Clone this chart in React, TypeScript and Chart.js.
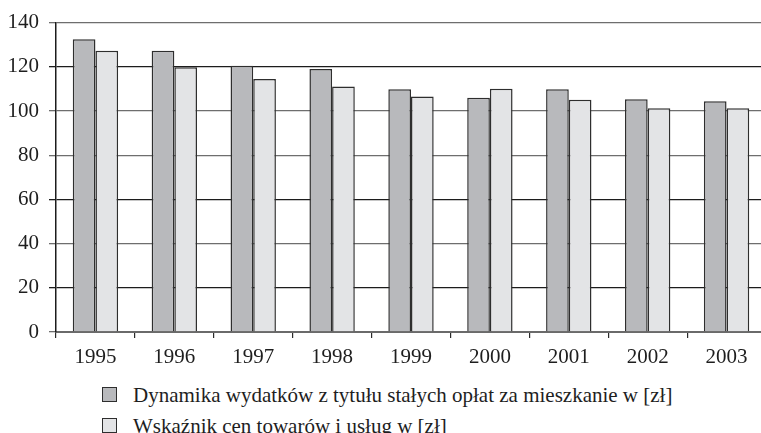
import React, { useEffect, useRef } from "react";
import { Chart, registerables } from "chart.js";

Chart.register(...registerables);

const categories = ["1995", "1996", "1997", "1998", "1999", "2000", "2001", "2002", "2003"];
const seriesExpenses = [132.5, 127.3, 120.5, 119.0, 109.8, 106.0, 109.8, 105.3, 104.4];
const seriesPrices = [127.3, 119.8, 114.5, 111.1, 106.6, 110.1, 105.1, 101.3, 101.3];
const seriesLabels = [
  "Dynamika wydatków z tytułu stałych opłat za mieszkanie w [zł]",
  "Wskaźnik cen towarów i usług w [zł]",
];
const seriesColors = ["#b8b9bc", "#e3e4e6"];
const yMin = 0;
const yMax = 140;
const yStep = 20;

const FONT = "'Liberation Serif', 'Times New Roman', serif";
const FS = 21;

export default function App() {
  const canvasRef = useRef<HTMLCanvasElement | null>(null);

  useEffect(() => {
    const canvas = canvasRef.current;
    if (!canvas) return;
    const chart = new Chart(canvas, {
      type: "bar",
      data: {
        labels: categories,
        datasets: [
          {
            label: seriesLabels[0],
            data: seriesExpenses,
            backgroundColor: seriesColors[0],
            borderColor: "#2e2e2e",
            borderWidth: 1.5,
            categoryPercentage: 0.575,
            barPercentage: 1,
          },
          {
            label: seriesLabels[1],
            data: seriesPrices,
            backgroundColor: seriesColors[1],
            borderColor: "#2e2e2e",
            borderWidth: 1.5,
            categoryPercentage: 0.575,
            barPercentage: 1,
          },
        ],
      },
      options: {
        responsive: false,
        animation: false,
        devicePixelRatio: 1,
        layout: { padding: { top: 11, right: 14, left: 0, bottom: 0 } },
        plugins: {
          legend: { display: false },
          tooltip: { enabled: false },
        },
        scales: {
          x: {
            offset: true,
            grid: {
              display: true,
              drawOnChartArea: false,
              drawTicks: true,
              tickLength: 6,
              color: "#2a2a2a",
              lineWidth: 1.2,
              offset: true,
            },
            border: { display: true, color: "#6a6a6a", width: 2 },
            ticks: {
              font: { family: FONT, size: FS },
              color: "#1e1e1e",
              padding: 7,
            },
            afterFit: (s: any) => {
              s.height = 43;
            },
          },
          y: {
            min: yMin,
            max: yMax,
            ticks: {
              stepSize: yStep,
              font: { family: FONT, size: FS },
              color: "#1e1e1e",
              padding: 10,
            },
            grid: {
              tickLength: 7,
              lineWidth: 1.3,
              color: (ctx: any) => {
                const v = ctx.tick ? ctx.tick.value : 0;
                return [120, 60, 20].includes(v) ? "#1c1c1c" : "#6e6e6e";
              },
            },
            border: { display: true, color: "#1c1c1c", width: 1.5 },
            afterFit: (s: any) => {
              s.width = 56;
            },
          },
        },
      },
    });
    return () => chart.destroy();
  }, []);

  return (
    <div
      style={{
        position: "fixed",
        left: 0,
        top: 0,
        width: 761,
        height: 433,
        overflow: "hidden",
        background: "#fff",
      }}
    >
      <canvas
        ref={canvasRef}
        width={780}
        height={375}
        style={{ position: "absolute", left: 0, top: 0, width: 780, height: 375 }}
      />
      {seriesLabels.map((lab, i) => (
        <React.Fragment key={lab}>
          <div
            style={{
              position: "absolute",
              left: 102,
              top: 387 + i * 31,
              width: 15,
              height: 15,
              boxSizing: "border-box",
              background: seriesColors[i],
              border: "1.3px solid #2e2e2e",
            }}
          />
          <div
            style={{
              position: "absolute",
              left: 133,
              top: 383 + i * 31,
              lineHeight: "24px",
              whiteSpace: "nowrap",
              fontFamily: FONT,
              fontSize: FS,
              color: "#1e1e1e",
            }}
          >
            {lab}
          </div>
        </React.Fragment>
      ))}
    </div>
  );
}
